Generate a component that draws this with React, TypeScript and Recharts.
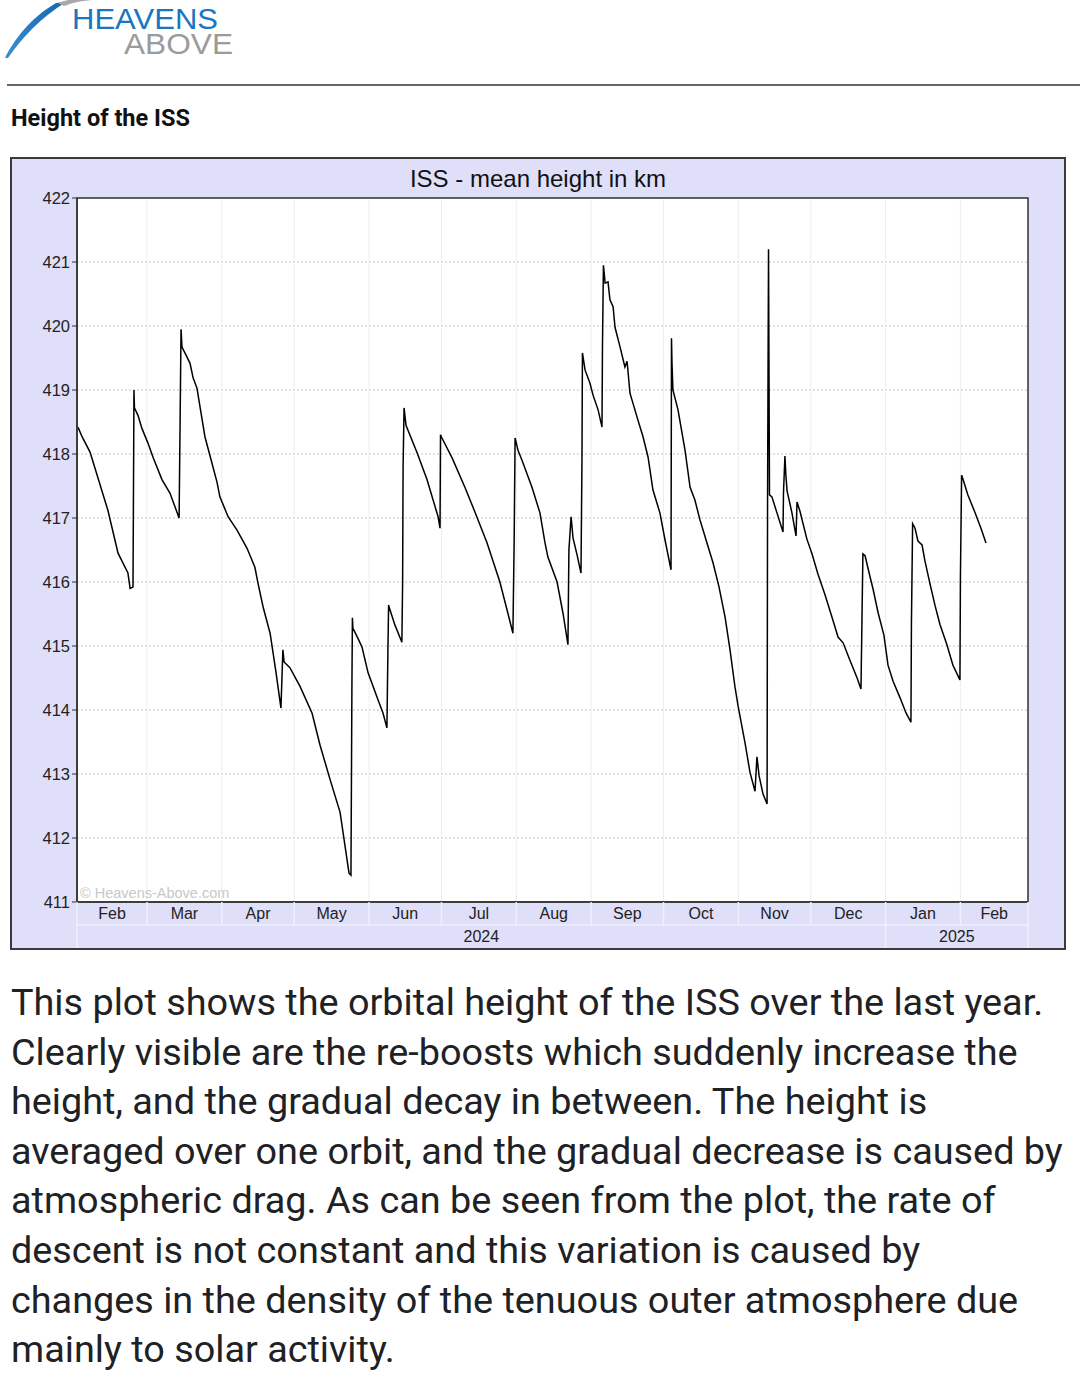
import React from 'react';
import { LineChart, Line, XAxis, YAxis, CartesianGrid, ReferenceArea } from 'recharts';

// days since 1 Feb 2024
const dayNum = [
  0.4, 2.1, 5.4, 12.8, 17.0, 21.1, 22.0, 23.2, 23.4, 23.6, 23.8, 25.3, 26.9, 29.4, 31.5, 35.2, 38.5, 42.3,
  42.7, 43.1, 43.5, 44.7, 46.8, 48.1, 49.7, 53.0, 55.9, 58.0, 59.2, 62.6, 66.3, 70.4, 73.7, 75.0, 77.1, 80.0,
  82.4, 84.5, 85.3, 85.8, 88.2, 92.4, 97.4, 100.7, 104.8, 109.0, 112.7, 113.5, 113.9, 114.1, 114.3, 116.4,
  118.1, 120.6, 124.7, 126.8, 128.4, 128.8, 129.1, 129.3, 131.7, 134.6, 134.9, 135.1, 135.5, 136.3, 140.9,
  145.0, 149.6, 150.4, 150.6, 151.2, 155.4, 160.7, 164.9, 169.9, 175.2, 178.6, 180.6, 181.1, 181.5, 182.7,
  184.4, 188.5, 191.8, 193.9, 195.1, 198.9, 201.4, 203.4, 203.8, 204.7, 205.5, 207.2, 208.8, 209.2, 209.4,
  210.5, 212.5, 213.8, 215.9, 217.5, 217.7, 218.1, 218.8, 220.0, 220.8, 222.1, 222.9, 225.0, 227.0, 227.9,
  229.1, 232.0, 234.5, 236.6, 238.6, 241.5, 243.6, 246.1, 246.3, 246.5, 246.9, 249.0, 251.9, 254.0, 256.0,
  258.1, 261.0, 263.5, 266.0, 268.5, 270.5, 272.6, 273.9, 276.8, 278.8, 280.9, 281.7, 282.6, 284.2, 285.9,
  286.1, 286.5, 286.7, 286.9, 287.9, 290.0, 292.5, 292.7, 293.3, 293.7, 294.2, 296.2, 297.9, 298.3, 299.5,
  302.4, 304.5, 307.0, 309.9, 312.8, 315.3, 317.4, 320.3, 323.2, 324.8, 325.2, 325.6, 326.5, 328.5, 329.8,
  331.9, 334.3, 336.0, 338.1, 341.0, 343.5, 345.5, 345.7, 346.2, 347.2, 348.4, 350.1, 351.3, 353.4, 355.5,
  357.5, 360.4, 362.9, 365.8, 366.0, 366.5, 367.1, 369.1, 372.0, 374.5, 376.6,
];

const heightKm = [
  418.42, 418.27, 418.03, 417.12, 416.45, 416.14, 415.9, 415.92, 417.44, 419.0, 418.72, 418.6, 418.4, 418.17,
  417.95, 417.6, 417.39, 417.0, 418.45, 419.95, 419.67, 419.58, 419.42, 419.19, 419.03, 418.27, 417.86, 417.56,
  417.33, 417.02, 416.81, 416.53, 416.23, 415.98, 415.61, 415.2, 414.6, 414.03, 414.94, 414.75, 414.66, 414.37,
  413.95, 413.45, 412.92, 412.4, 411.45, 411.42, 414.4, 415.44, 415.28, 415.12, 414.98, 414.58, 414.16, 413.95,
  413.72, 414.9, 415.64, 415.61, 415.33, 415.06, 415.98, 417.8, 418.72, 418.45, 418.02, 417.6, 417.02, 416.84,
  418.3, 418.25, 417.94, 417.48, 417.09, 416.61, 416.0, 415.5, 415.2, 416.6, 418.25, 418.06, 417.9, 417.48,
  417.08, 416.61, 416.39, 416.0, 415.5, 415.02, 416.5, 417.02, 416.69, 416.42, 416.14, 417.86, 419.58, 419.31,
  419.11, 418.92, 418.69, 418.42, 419.67, 420.95, 420.67, 420.69, 420.41, 420.3, 419.98, 419.67, 419.36, 419.45,
  418.95, 418.58, 418.27, 417.95, 417.44, 417.08, 416.66, 416.19, 419.81, 419.42, 419.0, 418.69, 418.06, 417.48,
  417.28, 416.97, 416.61, 416.3, 415.92, 415.45, 414.95, 414.36, 414.06, 413.48, 413.03, 412.73, 413.27, 412.97,
  412.69, 412.53, 417.3, 421.2, 419.23, 417.36, 417.33, 417.08, 416.78, 417.4, 417.97, 417.66, 417.42, 417.08,
  416.72, 417.25, 417.11, 416.67, 416.44, 416.12, 415.8, 415.45, 415.14, 415.05, 414.77, 414.5, 414.33, 415.38,
  416.44, 416.41, 416.09, 415.89, 415.52, 415.17, 414.7, 414.45, 414.19, 413.95, 413.81, 415.34, 416.91, 416.84,
  416.64, 416.58, 416.33, 415.97, 415.63, 415.34, 415.02, 414.7, 414.47, 416.06, 417.67, 417.6, 417.36, 417.09,
  416.84, 416.61,
];

const monthNames = ['Feb', 'Mar', 'Apr', 'May', 'Jun', 'Jul', 'Aug', 'Sep', 'Oct', 'Nov', 'Dec', 'Jan', 'Feb'];
const monthStarts = [0, 29, 60, 90, 121, 151, 182, 213, 243, 274, 304, 335, 366, 394];
const yearNames = ['2024', '2025'];
const yearStarts = [0, 335, 394];
const yTicks = [411, 412, 413, 414, 415, 416, 417, 418, 419, 420, 421, 422];

const paragraph = [
  'This plot shows the orbital height of the ISS over the last year.',
  'Clearly visible are the re-boosts which suddenly increase the',
  'height, and the gradual decay in between. The height is',
  'averaged over one orbit, and the gradual decrease is caused by',
  'atmospheric drag. As can be seen from the plot, the rate of',
  'descent is not constant and this variation is caused by',
  'changes in the density of the tenuous outer atmosphere due',
  'mainly to solar activity.',
];

const points = dayNum.map((d, i) => ({ day: d, km: heightKm[i] }));

const mids = (starts: number[]) => starts.slice(0, -1).map((s, i) => (s + starts[i + 1]) / 2);
const monthMids = mids(monthStarts);
const yearMids = mids(yearStarts);

const LAV = '#dfdff9';
const SEP = '#efeffc';
const AXIS_FONT = '"Liberation Sans", Arial, sans-serif';

const makeRowTick = (starts: number[], centers: number[], names: string[]) => (props: any) => {
  const { x, y, payload } = props;
  const v = payload.value;
  if (starts.includes(v)) {
    return <line x1={x} x2={x} y1={y} y2={y + 23} stroke={SEP} strokeWidth={1.5} />;
  }
  const i = centers.indexOf(v);
  return (
    <text x={x} y={y + 17} textAnchor="middle" fontSize={16} fontFamily={AXIS_FONT} fill="#222">
      {names[i]}
    </text>
  );
};

const MonthTick = makeRowTick(monthStarts, monthMids, monthNames);
const YearTick = makeRowTick(yearStarts, yearMids, yearNames);

const Logo = () => (
  <svg width={260} height={62} style={{ position: 'absolute', left: 0, top: 0 }}>
    <defs>
      <linearGradient id="sw" x1="0" y1="1" x2="1" y2="0">
        <stop offset="0%" stopColor="#3a8fd0" />
        <stop offset="100%" stopColor="#1668b0" />
      </linearGradient>
    </defs>
    <path d="M5,58 C14,40 30,18 56,3 L66,2 C40,18 22,38 8,58 Z" fill="url(#sw)" />
    <path d="M58,3 C68,-1 80,-2 92,-2 L92,0 C80,1 72,3 64,6 Z" fill="#a8a8a8" />
    <text x={72} y={29} fontSize={29} fontFamily={AXIS_FONT} fill="#1a76c0" textLength={146} lengthAdjust="spacingAndGlyphs">
      HEAVENS
    </text>
    <text x={124} y={54} fontSize={29} fontFamily={AXIS_FONT} fill="#9b9b9b" textLength={109} lengthAdjust="spacingAndGlyphs">
      ABOVE
    </text>
  </svg>
);

export default function App() {
  return (
    <div style={{ position: 'absolute', left: 0, top: 0, width: 1080, height: 1387, background: '#fff', overflow: 'hidden' }}>
      <Logo />
      <div style={{ position: 'absolute', left: 7, top: 84, width: 1073, height: 2, background: '#666' }} />
      <div
        style={{
          position: 'absolute', left: 11, top: 104, fontFamily: 'Roboto, sans-serif', fontWeight: 700,
          fontSize: 23.5, lineHeight: '28px', color: '#111',
        }}
      >
        Height of the ISS
      </div>

      <div
        style={{
          position: 'absolute', left: 10, top: 157, width: 1056, height: 793, boxSizing: 'border-box',
          border: '2px solid #3a3a3a', background: LAV,
        }}
      >
        <div
          style={{
            position: 'absolute', left: 0, top: 7, width: '100%', textAlign: 'center', fontFamily: AXIS_FONT,
            fontSize: 24, lineHeight: '26px', color: '#111',
          }}
        >
          ISS - mean height in km
        </div>
        <LineChart width={1052} height={789} data={points} margin={{ top: 39, right: 36, bottom: 0, left: 5 }}>
          <CartesianGrid xAxisId="grid" vertical={false} stroke="#c4c4c4" strokeDasharray="2 2" fill="#fff" />
          <CartesianGrid xAxisId="grid" horizontal={false} stroke="#dedede" strokeDasharray="1 1" />
          <XAxis
            xAxisId="grid" dataKey="day" type="number" domain={[0, 394]} ticks={monthStarts} allowDataOverflow
            hide height={0}
          />
          <XAxis
            xAxisId="months" dataKey="day" type="number" domain={[0, 394]} allowDataOverflow
            ticks={[...monthStarts, ...monthMids].sort((a, b) => a - b)} interval={0} height={23}
            tickSize={0} tickMargin={0} tickLine={false} tick={<MonthTick />} axisLine={{ stroke: '#333', strokeWidth: 1.5 }}
          />
          <XAxis
            xAxisId="years" dataKey="day" type="number" domain={[0, 394]} allowDataOverflow
            ticks={[...yearStarts, ...yearMids].sort((a, b) => a - b)} interval={0} height={23}
            tickSize={0} tickMargin={0} tickLine={false} tick={<YearTick />} axisLine={{ stroke: SEP, strokeWidth: 1.5 }}
          />
          <YAxis
            type="number" domain={[411, 422]} ticks={yTicks} interval={0} width={60} tickSize={5} tickMargin={2}
            tick={{ fontSize: 16.5, fontFamily: AXIS_FONT, fill: '#222' }} tickLine={{ stroke: '#333' }}
            axisLine={{ stroke: '#333', strokeWidth: 1.5 }}
          />
          <ReferenceArea xAxisId="grid" x1={0} x2={394} y1={411} y2={422} fill="none" stroke="#333" strokeWidth={1.5} />
          <Line
            xAxisId="grid" dataKey="km" type="linear" stroke="#000" strokeWidth={1.5} dot={false}
            isAnimationActive={false}
          />
        </LineChart>
        <div
          style={{
            position: 'absolute', left: 68, top: 726, fontFamily: AXIS_FONT, fontSize: 14.5, color: '#c8c8c8',
            lineHeight: '16px',
          }}
        >
          © Heavens-Above.com
        </div>
      </div>

      <div style={{ position: 'absolute', left: 11, top: 978, fontFamily: 'Roboto, sans-serif', fontSize: 37.8, color: '#202124' }}>
        {paragraph.map((l) => (
          <div key={l} style={{ whiteSpace: 'nowrap', lineHeight: '49.6px' }}>
            {l}
          </div>
        ))}
      </div>
    </div>
  );
}
